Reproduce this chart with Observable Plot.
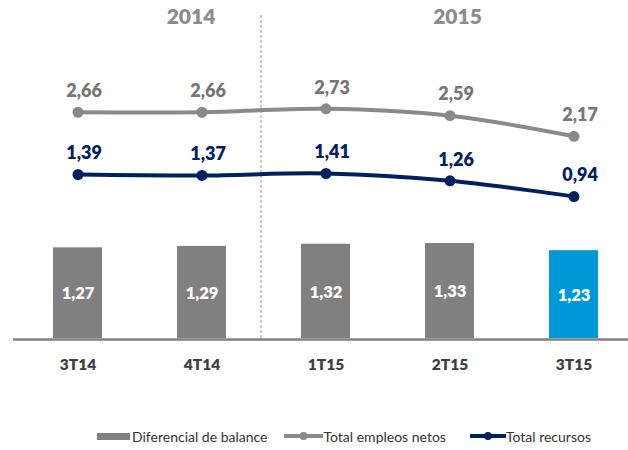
<!DOCTYPE html>
<html>
<head>
<meta charset="utf-8">
<script src="https://cdn.jsdelivr.net/npm/d3@7"></script>
<script src="https://cdn.jsdelivr.net/npm/@observablehq/plot@0.6"></script>
<style>
  html, body { margin: 0; padding: 0; background: #fff; }
  body { width: 628px; height: 450px; overflow: hidden; font-family: Lato, "Open Sans", sans-serif; }
  #chart { position: relative; width: 628px; height: 420px; }
  #chart svg { position: absolute; left: 0; top: 0; }
  #legend { display: flex; align-items: center; height: 32px; padding-left: 97px; font-size: 14px; color: #333; }
  .item { display: flex; align-items: center; }
</style>
</head>
<body>
<div id="chart"></div>
<div id="legend"></div>
<script>
// ---- data ----
const categories = ["3T14", "4T14", "1T15", "2T15", "3T15"];
const diferencial = [1.27, 1.29, 1.32, 1.33, 1.23];
const empleos = [2.66, 2.66, 2.73, 2.59, 2.17];
const recursos = [1.39, 1.37, 1.41, 1.26, 0.94];
const years = ["2014", "2015"];
const highlighted = "3T15";
const seriesNames = ["Diferencial de balance", "Total empleos netos", "Total recursos"];

const fmt = v => v.toFixed(2).replace(".", ",");
const font = "Lato, 'Open Sans', sans-serif";
const GRAY = "#808080", LINEGRAY = "#8a8a8a", NAVY = "#002060", BLUE = "#0099d8";
const HEAVY = 800;

const xScale = {type: "band", domain: categories, paddingInner: 0.6034, paddingOuter: 0.2656, align: 0.5686, axis: null};
const common = {width: 628, height: 420, marginLeft: 13, marginRight: 0, marginTop: 0,
  style: {fontFamily: font, background: "transparent", color: "#404040", overflow: "visible"}};

const bars = categories.map((c, i) => ({cat: c, v: diferencial[i]}));
const lines = categories.flatMap((c, i) => [
  {cat: c, v: empleos[i], s: seriesNames[1]},
  {cat: c, v: recursos[i], s: seriesNames[2]}
]);

// bar chart with primary axis (71.4 px per unit)
const barTop = 338 / 71.4;
const plotBars = Plot.plot({
  ...common,
  marginBottom: 82,
  x: xScale,
  y: {domain: [0, barTop], axis: null},
  marks: [
    Plot.barY(bars, {x: "cat", y: "v", fill: d => d.cat === highlighted ? BLUE : GRAY}),
    Plot.text(bars, {x: "cat", y: d => d.v / 2, text: d => fmt(d.v), fill: "white", fontSize: 16.5, fontWeight: HEAVY, dy: 1}),
    Plot.ruleX([categories[2]], {x: d => d, dx: -65, y1: 0, y2: barTop - 14 / 71.4, stroke: "#9a9a9a", strokeWidth: 1, strokeDasharray: "3,2"}),
    Plot.ruleY([0], {stroke: GRAY, strokeWidth: 2.5, dy: 1}),
    Plot.text([years[0]], {x: () => categories[1], frameAnchor: "top", dy: 9, dx: -11, fontSize: 21, fontWeight: HEAVY, fill: "#8c8c8c", lineAnchor: "top"}),
    Plot.text([years[1]], {x: () => categories[3], frameAnchor: "top", dy: 9, dx: 7.5, fontSize: 21, fontWeight: HEAVY, fill: "#8c8c8c", lineAnchor: "top"}),
    Plot.axisX({tickSize: 0, tickPadding: 20, fontSize: 15.5, fontWeight: HEAVY, fill: "#404040", label: null})
  ]
});

// lines with secondary axis (49 px per unit, zero at y=242)
const lineZero = 242.1;
const plotLines = Plot.plot({
  ...common,
  marginBottom: 420 - lineZero,
  x: xScale,
  y: {domain: [0, lineZero / 49], axis: null},
  color: {domain: [seriesNames[1], seriesNames[2]], range: [LINEGRAY, NAVY]},
  marks: [
    Plot.line(lines, {x: "cat", y: "v", z: "s", stroke: "s", strokeWidth: 4, curve: "catmull-rom"}),
    Plot.dot(lines, {x: "cat", y: "v", fill: "s", r: 5.5}),
    Plot.text(lines, {x: "cat", y: "v", text: d => fmt(d.v), dx: 6, dy: -21, fontSize: 18, fontWeight: HEAVY,
      fill: d => d.s === seriesNames[1] ? "#767676" : NAVY})
  ]
});

const chart = document.getElementById("chart");
chart.appendChild(plotBars);
chart.appendChild(plotLines);

// legend
const legend = document.getElementById("legend");
function lineSym(color, w) {
  return `<svg width="${w}" height="12" style="display:block"><line x1="0" x2="${w}" y1="6" y2="6" stroke="${color}" stroke-width="4" stroke-linecap="round"/><circle cx="${w/2}" cy="6" r="4" fill="${color}"/></svg>`;
}
legend.innerHTML =
  `<div class="item"><div style="width:33px;height:7px;background:${GRAY};margin-right:2px"></div>${seriesNames[0]}</div>` +
  `<div class="item" style="margin-left:17px">${lineSym(LINEGRAY, 39)}<span>${seriesNames[1]}</span></div>` +
  `<div class="item" style="margin-left:24px">${lineSym(NAVY, 36)}<span>${seriesNames[2]}</span></div>`;
</script>
</body>
</html>
